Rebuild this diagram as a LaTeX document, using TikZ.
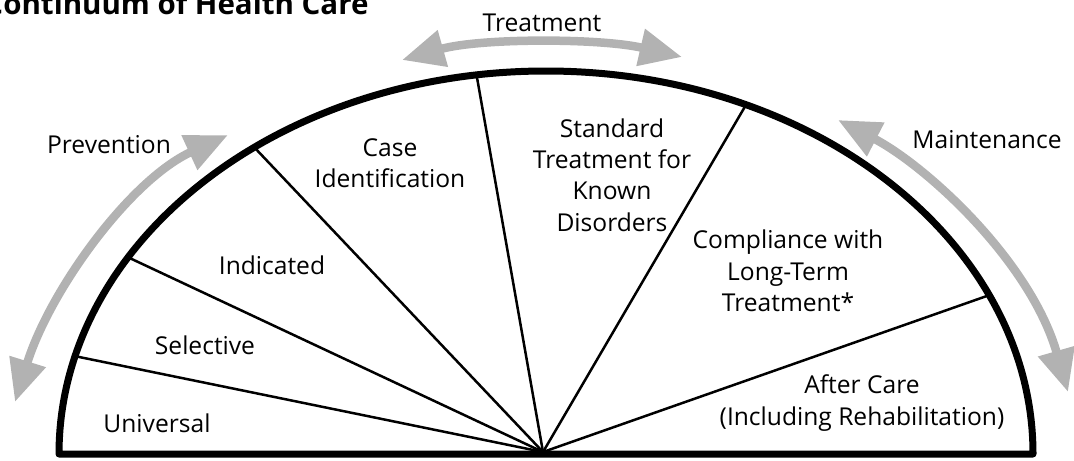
\documentclass[tikz,border=0pt]{standalone}
\usepackage{fontspec}
\setmainfont{Open Sans}
\usetikzlibrary{arrows.meta,calc}
\begin{document}
\begin{tikzpicture}[x=0.02cm,y=-0.02cm,
  arcline/.style={line width=0.14cm,line join=round},
  spoke/.style={line width=0.05cm},
  lbl/.style={font=\fontsize{14}{17.8}\selectfont,align=center,inner sep=0pt},
  garrow/.style={line width=0.17cm,color=gray!60,
    {Triangle[length=0.85cm,width=0.72cm]}-{Triangle[length=0.85cm,width=0.72cm]}}]
\useasboundingbox (0,0) rectangle (1074,460);
\clip (0,0) rectangle (1074,460);
% title
\node[anchor=base east,font=\fontsize{16.8}{20}\selectfont\bfseries,inner sep=0pt] (title) at (369,14) {Continuum of Health Care};
% geometry
\coordinate (C) at (546,454);
\coordinate (H) at (543,452);
\coordinate (p1) at ($(C)+(-165.2:487 and 383)$);
\coordinate (p2) at ($(C)+(-149.1:487 and 383)$);
\coordinate (p3) at ($(C)+(-126.8:487 and 383)$);
\coordinate (p4) at ($(C)+(-98.2:487 and 383)$);
\coordinate (p5) at ($(C)+(-65.75:487 and 383)$);
\coordinate (p6) at ($(C)+(-24.5:487 and 383)$);
\foreach \p in {p1,p2,p3,p4,p5,p6} \draw[spoke] (H) -- (\p);
\draw[arcline] ($(C)+(-180:487 and 383)$) arc[start angle=-180,end angle=0,x radius=487,y radius=383] -- cycle;
% sector labels
\node[lbl] (universal) at (157,423) {Universal};
\node[lbl] (selective) at (205,345) {Selective};
\node[lbl] (indicated) at (272,265) {Indicated};
\node[lbl] (caseid) at (390,163) {Case\\Identification};
\node[lbl] (standard) at (612,175) {Standard\\Treatment for\\Known\\Disorders};
\node[lbl] (compliance) at (788,271) {Compliance with\\Long-Term\\Treatment*};
\node[lbl] (aftercare) at (862,403) {After Care\\(Including Rehabilitation)};
% phase arrows
\coordinate (prevA) at (15,402);
\coordinate (prevB) at (228,135);
\draw[garrow] (prevA) .. controls (50,290) and (130,180) .. (prevB);
\coordinate (treatA) at (402,60);
\coordinate (treatB) at (682,57);
\draw[garrow] (treatA) .. controls (480,38) and (600,38) .. (treatB);
\coordinate (maintA) at (838,120);
\coordinate (maintB) at (1068,392);
\draw[garrow] (maintA) .. controls (925,165) and (1030,260) .. (maintB);
\node[lbl] (prevention) at (109,145) {Prevention};
\node[lbl] (treatment) at (542,23) {Treatment};
\node[lbl] (maintenance) at (987,140) {Maintenance};
\end{tikzpicture}
\end{document}
